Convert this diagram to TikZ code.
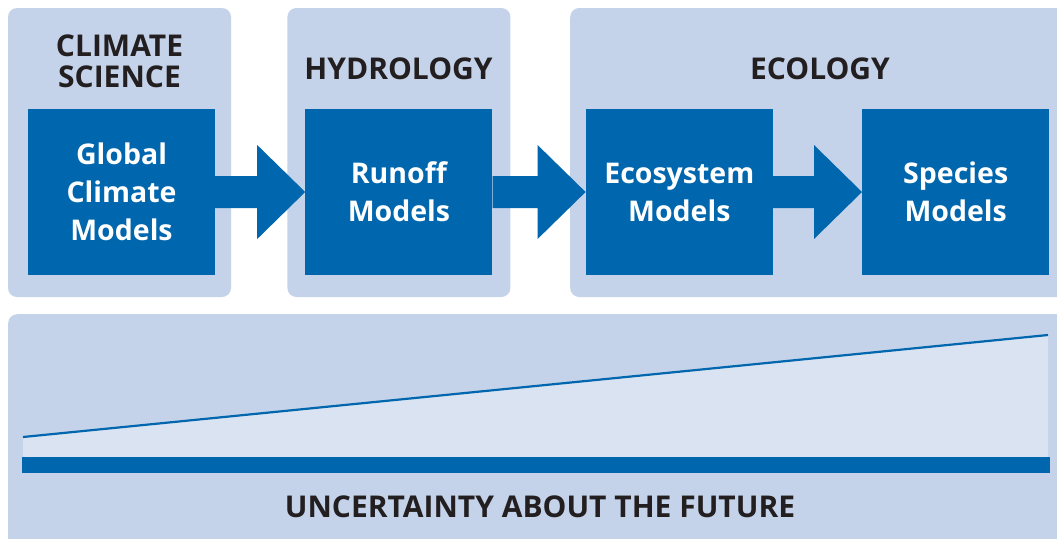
\documentclass[tikz,border=0pt]{standalone}
\usepackage{fontspec}
\setmainfont{Open Sans}
\usepackage{tikz}
\usetikzlibrary{positioning}
\usetikzlibrary{calc}
\usepackage{xcolor}
\definecolor{panelblue}{HTML}{C4D3EA}
\definecolor{modelblue}{HTML}{0066AD}
\definecolor{paleblue}{HTML}{DAE3F2}
\definecolor{inkdark}{HTML}{231F20}

\begin{document}
\begin{tikzpicture}[x=1pt,y=-1pt,
  panel/.style={rectangle,rounded corners=9pt,fill=panelblue,inner sep=0pt},
  model/.style={rectangle,fill=modelblue,text=white,inner sep=0pt,minimum width=187pt,minimum height=166pt,align=center,font=\bfseries\fontsize{28.5}{38}\selectfont},
  heading/.style={text=inkdark,align=center,font=\bfseries\fontsize{30}{31}\selectfont}]
\useasboundingbox (0,0) rectangle (1057,538);
\node [panel,minimum width=223pt,minimum height=289pt] (climate) at (119.5,152.5) {};
\node [panel,minimum width=223pt,minimum height=289pt,right=56pt of climate] (hydro) {};
\node [panel,minimum width=500pt,minimum height=289pt,anchor=west] (ecology) at (570,152.5) {};
\node [panel,minimum width=1062pt,minimum height=234pt,anchor=north west] (future) at (8,314) {};

\node [heading] (climatetitle) at (119.5,61.5) {CLIMATE\\SCIENCE};
\node [heading] (hydrotitle) at (398.5,69) {HYDROLOGY};
\node [heading] (ecotitle) at (820,69) {ECOLOGY};

\node [model] (gcm) at (121.5,192) {Global\\Climate\\Models};
\node [model,right=90pt of gcm] (runoff) {Runoff\\Models};
\node [model,right=93pt of runoff] (ecosys) {Ecosystem\\Models};
\node [model,right=89pt of ecosys] (species) {Species\\Models};

\fill [modelblue] ($(gcm.east)+(0,-16)$) -- ($(runoff.west)+(-48,-16)$) -- ++(0,-31) -- (runoff.west) -- ++(-48,47) -- ++(0,-31) -- ($(gcm.east)+(0,16)$) -- cycle;
\fill [modelblue] ($(runoff.east)+(0,-16)$) -- ($(ecosys.west)+(-48,-16)$) -- ++(0,-31) -- (ecosys.west) -- ++(-48,47) -- ++(0,-31) -- ($(runoff.east)+(0,16)$) -- cycle;
\fill [modelblue] ($(ecosys.east)+(0,-16)$) -- ($(species.west)+(-48,-16)$) -- ++(0,-31) -- (species.west) -- ++(-48,47) -- ++(0,-31) -- ($(ecosys.east)+(0,16)$) -- cycle;

\coordinate (low) at (23,437);
\coordinate (high) at (1048,335);
\fill [paleblue] (low) -- (high) -- (1048,457) -- (23,457) -- cycle;
\draw [modelblue,line width=2.2pt] (low) -- (high);
\fill [modelblue] (22,457) rectangle (1050,473);
\node [heading] (uncertainty) at (540,507) {UNCERTAINTY ABOUT THE FUTURE};
\end{tikzpicture}
\end{document}
